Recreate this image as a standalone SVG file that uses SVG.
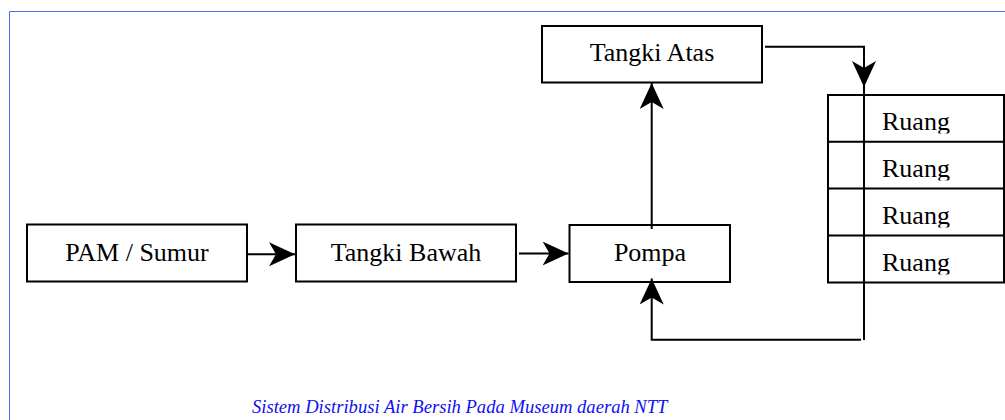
<svg xmlns="http://www.w3.org/2000/svg" width="1005" height="420" viewBox="0 0 1005 420">
<style>
.box{fill:#fff;stroke:#000;stroke-width:2}
.lbl{font-family:"Liberation Serif","Times New Roman",serif;font-size:26px;fill:#000}
.con{fill:none;stroke:#000;stroke-width:2}
.cap{font-family:"Liberation Serif","Times New Roman",serif;font-style:italic;font-size:18.6px;fill:#1010f0}
</style>
<defs>
<marker id="ah" viewBox="0 0 26 24" refX="26" refY="12" markerWidth="26" markerHeight="24" markerUnits="userSpaceOnUse" orient="auto">
<path d="M26,12 L0,0 L7,12 L0,24 Z" fill="#000"/>
</marker>
<clipPath id="c1"><rect x="866" y="96" width="137" height="37.5"/></clipPath>
<clipPath id="c2"><rect x="866" y="143" width="137" height="37.5"/></clipPath>
<clipPath id="c3"><rect x="866" y="190" width="137" height="37.5"/></clipPath>
<clipPath id="c4"><rect x="866" y="237" width="137" height="37.5"/></clipPath>
</defs>
<rect width="1005" height="420" fill="#fff"/>
<path d="M9.5,420 V11.5 H1005" fill="none" stroke="#4a6cf0" stroke-width="1"/>

<g id="pam">
<rect class="box" x="27" y="224.5" width="220" height="57"/>
<text class="lbl" x="137" y="261" text-anchor="middle">PAM / Sumur</text>
</g>
<g id="tangki-bawah">
<rect class="box" x="296" y="224.5" width="220" height="57"/>
<text class="lbl" x="406" y="261" text-anchor="middle">Tangki Bawah</text>
</g>
<g id="pompa">
<rect class="box" x="569.5" y="225" width="160.5" height="57"/>
<text class="lbl" x="650" y="261" text-anchor="middle">Pompa</text>
</g>
<g id="tangki-atas">
<rect class="box" x="542" y="26" width="220" height="56.5"/>
<text class="lbl" x="652" y="61" text-anchor="middle">Tangki Atas</text>
</g>
<g id="ruang">
<rect class="box" x="828" y="95" width="176" height="187.5"/>
<path d="M828,141.7 H1004 M828,188.5 H1004 M828,235.5 H1004" stroke="#000" stroke-width="2"/>
<text class="lbl" x="882" y="130" clip-path="url(#c1)">Ruang</text>
<text class="lbl" x="882" y="177" clip-path="url(#c2)">Ruang</text>
<text class="lbl" x="882" y="224" clip-path="url(#c3)">Ruang</text>
<text class="lbl" x="882" y="271" clip-path="url(#c4)">Ruang</text>
</g>

<g id="connectors">
<path class="con" d="M247,254.3 H295" marker-end="url(#ah)"/>
<path class="con" d="M519,253.5 H568.5" marker-end="url(#ah)"/>
<path class="con" d="M651.7,229 V83" marker-end="url(#ah)"/>
<path class="con" d="M765,46.7 H864 V87" marker-end="url(#ah)"/>
<path class="con" d="M864,87 V340"/>
<path class="con" d="M861,339.7 H651.7 V278.5" marker-end="url(#ah)"/>
</g>

<text class="cap" x="252" y="413">Sistem Distribusi Air Bersih Pada Museum daerah NTT</text>
</svg>
